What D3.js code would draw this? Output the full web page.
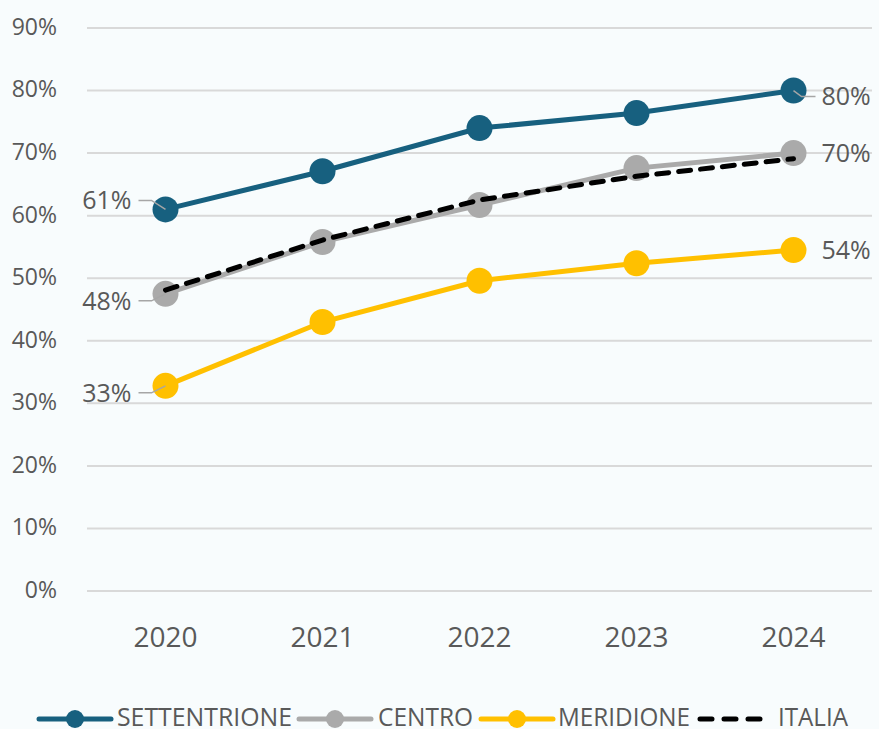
<!DOCTYPE html>
<html>
<head>
<meta charset="utf-8">
<script src="https://cdn.jsdelivr.net/npm/d3@7"></script>
<style>
  body { margin: 0; background: #f8fcfd; }
  text { font-family: "Open Sans", sans-serif; fill: #595959; }
</style>
</head>
<body>
<div id="chart"></div>
<script>
// anni e serie
var years = ['2020', '2021', '2022', '2023', '2024'];
var settentrione = [61, 67.1, 74, 76.4, 80];
var centro = [47.5, 55.8, 61.7, 67.6, 70];
var meridione = [32.8, 43, 49.6, 52.4, 54.5];
var italia = [48.1, 56.1, 62.5, 66.3, 69.1];
var yTicks = [0, 10, 20, 30, 40, 50, 60, 70, 80, 90];

var series = [
  { name: 'SETTENTRIONE', values: settentrione, color: '#17607f', marker: true },
  { name: 'CENTRO', values: centro, color: '#aaaaaa', marker: true },
  { name: 'MERIDIONE', values: meridione, color: '#ffc000', marker: true },
  { name: 'ITALIA', values: italia, color: '#000000', marker: false }
];

var width = 879, height = 729;

var svg = d3.select('#chart').append('svg')
  .attr('width', width)
  .attr('height', height);

svg.append('rect').attr('width', width).attr('height', height).attr('fill', '#f8fcfd');

var xScale = d3.scaleBand()
  .domain(years)
  .range([87, 872]);

var yScale = d3.scaleLinear()
  .domain([0, 90])
  .range([591, 28]);

function cx(i) { return xScale(years[i]) + xScale.bandwidth() / 2; }

//Grid
svg.selectAll('line.grid')
  .data(yTicks)
  .enter()
  .append('line')
  .attr('class', 'grid')
  .attr('x1', 87).attr('x2', 872)
  .attr('y1', function(d) { return yScale(d); })
  .attr('y2', function(d) { return yScale(d); })
  .attr('stroke', '#d9d9d9')
  .attr('stroke-width', 2);

//Y labels
svg.selectAll('text.ytick')
  .data(yTicks)
  .enter()
  .append('text')
  .attr('class', 'ytick')
  .attr('x', 57)
  .attr('y', function(d) { return yScale(d); })
  .attr('dy', '0.3em')
  .attr('text-anchor', 'end')
  .style('font-size', '23px')
  .text(function(d) { return d + '%'; });

//X labels
svg.selectAll('text.xtick')
  .data(years)
  .enter()
  .append('text')
  .attr('class', 'xtick')
  .attr('x', function(d) { return xScale(d) + xScale.bandwidth() / 2; })
  .attr('y', 647)
  .attr('text-anchor', 'middle')
  .style('font-size', '28px')
  .text(function(d) { return d; });

var line = d3.line()
  .x(function(d, i) { return cx(i); })
  .y(function(d) { return yScale(d); });

//Lines and markers
series.forEach(function(s) {
  if (!s.marker) return;
  svg.append('path')
    .datum(s.values)
    .attr('d', line)
    .attr('fill', 'none')
    .attr('stroke', s.color)
    .attr('stroke-width', 5);
  svg.selectAll(null)
    .data(s.values)
    .enter()
    .append('circle')
    .attr('cx', function(d, i) { return cx(i); })
    .attr('cy', function(d) { return yScale(d); })
    .attr('r', 13)
    .attr('fill', s.color);
});
// Italia dashed drawn on top
svg.append('path')
  .datum(italia)
  .attr('d', line)
  .attr('fill', 'none')
  .attr('stroke', '#000')
  .attr('stroke-width', 5)
  .attr('stroke-linecap', 'round')
  .attr('stroke-dasharray', '12,10');

//Data labels with leader lines
var labels = [
  { s: settentrione, i: 0, text: '61%', side: 'left', dy: -9 },
  { s: centro, i: 0, text: '48%', side: 'left', dy: 7 },
  { s: meridione, i: 0, text: '33%', side: 'left', dy: 7 },
  { s: settentrione, i: 4, text: '80%', side: 'right', dy: 6 },
  { s: centro, i: 4, text: '70%', side: 'right', dy: 0 },
  { s: meridione, i: 4, text: '54%', side: 'right', dy: 0 }
];

labels.forEach(function(l) {
  var px = cx(l.i), py = yScale(l.s[l.i]);
  var ly = py + l.dy;
  if (l.side === 'left') {
    svg.append('polyline')
      .attr('points', [[px, py], [px - 14, ly], [px - 27, ly]].join(' '))
      .attr('fill', 'none').attr('stroke', '#a6a6a6').attr('stroke-width', 1.5);
    svg.append('text')
      .attr('x', px - 34).attr('y', ly)
      .attr('dy', '0.35em')
      .attr('text-anchor', 'end')
      .style('font-size', '25px')
      .text(l.text);
  } else {
    if (l.dy !== 0) {
      svg.append('polyline')
        .attr('points', [[px, py], [px + 8, ly], [px + 22, ly]].join(' '))
        .attr('fill', 'none').attr('stroke', '#a6a6a6').attr('stroke-width', 1.5);
    }
    svg.append('text')
      .attr('x', px + 28).attr('y', ly)
      .attr('dy', '0.35em')
      .attr('text-anchor', 'start')
      .style('font-size', '25px')
      .text(l.text);
  }
});

//Legend
var legendItems = [
  { x: 39, tx: 117, tw: 175 },
  { x: 299, tx: 378, tw: 95 },
  { x: 481, tx: 558, tw: 132 },
  { x: 700, tx: 778, tw: 70 }
];
var legY = 719;
series.forEach(function(s, i) {
  var it = legendItems[i];
  svg.append('line')
    .attr('x1', it.x).attr('x2', it.x + 72)
    .attr('y1', legY).attr('y2', legY)
    .attr('stroke', s.color)
    .attr('stroke-width', 5)
    .attr('stroke-linecap', s.marker ? 'round' : 'round')
    .attr('stroke-dasharray', s.marker ? null : '12,12');
  if (s.marker) {
    svg.append('circle')
      .attr('cx', it.x + 36).attr('cy', legY).attr('r', 9)
      .attr('fill', s.color);
  }
  svg.append('text')
    .attr('x', it.tx).attr('y', 726)
    .attr('textLength', it.tw)
    .attr('lengthAdjust', 'spacingAndGlyphs')
    .style('font-size', '26px')
    .text(s.name);
});
</script>
</body>
</html>
